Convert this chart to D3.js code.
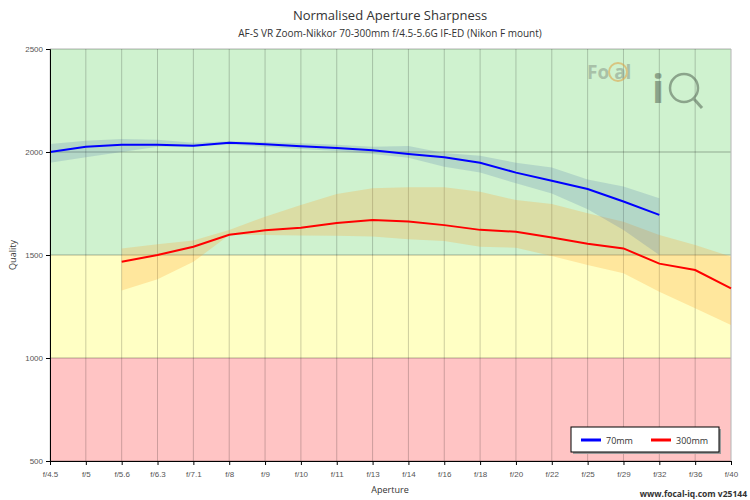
<!DOCTYPE html>
<html>
<head>
<meta charset="utf-8">
<script src="https://d3js.org/d3.v7.min.js"></script>
<style>
body { margin:0; font-family: "Open Sans", sans-serif; }
.tick text { font-size: 8px; fill: #555; }
</style>
</head>
<body>
<script>
var apertures = ["f/4.5","f/5","f/5.6","f/6.3","f/7.1","f/8","f/9","f/10","f/11","f/13","f/14","f/16","f/18","f/20","f/22","f/25","f/29","f/32","f/36","f/40"];
var yTicks = [500, 1000, 1500, 2000, 2500];
// 70mm: index 0..17
var s70 = [2000,2025,2035,2035,2030,2045,2038,2028,2020,2008,1990,1975,1948,1900,1860,1820,1760,1695];
var s70hi = [2039,2055,2063,2060,2045,2052,2048,2042,2035,2025,2029,1995,1982,1948,1925,1867,1832,1775];
var s70lo = [1948,1975,2000,2026,2026,2036,2025,2015,2005,1990,1972,1929,1900,1848,1799,1722,1621,1500];
// 300mm: index 2..19
var s300 = [1467,1500,1540,1598,1620,1632,1655,1670,1663,1645,1622,1613,1585,1555,1532,1458,1427,1338];
var s300hi = [1532,1552,1570,1621,1686,1743,1796,1824,1829,1829,1807,1767,1748,1703,1662,1597,1549,1492];
var s300lo = [1328,1382,1467,1597,1597,1595,1594,1590,1576,1568,1540,1535,1495,1451,1412,1322,1241,1160];

var W = 750, H = 500, m = {l:50, r:19, t:49, b:39};
var svg = d3.select("body").append("svg").attr("width", W).attr("height", H);
var x = d3.scalePoint().domain(apertures).range([m.l, W - m.r]);
var y = d3.scaleLinear().domain([500, 2500]).range([H - m.b, m.t]);

// zones
[[500,1000,"#ffc4c4"],[1000,1500,"#ffffc4"],[1500,2500,"#cff2cf"]].forEach(function(z){
  svg.append("rect").attr("x", m.l).attr("width", W - m.r - m.l)
    .attr("y", y(z[1])).attr("height", y(z[0]) - y(z[1])).attr("fill", z[2]);
});
// grid
svg.append("g").selectAll("line").data(apertures).enter().append("line")
  .attr("x1", d => x(d)).attr("x2", d => x(d)).attr("y1", m.t).attr("y2", H - m.b)
  .attr("stroke", "#000").attr("stroke-opacity", 0.2);
svg.append("g").selectAll("line").data(yTicks).enter().append("line")
  .attr("x1", m.l).attr("x2", W - m.r).attr("y1", d => y(d)).attr("y2", d => y(d))
  .attr("stroke", "#000").attr("stroke-opacity", 0.3);
svg.append("line").attr("x1", W - m.r).attr("x2", W - m.r).attr("y1", m.t).attr("y2", H - m.b).attr("stroke", "#ccc");

// logo
var lg = svg.append("g").attr("opacity", 0.55);
lg.append("text").attr("x", 587).attr("y", 79).attr("font-size", 19).attr("font-weight", "bold").attr("fill", "#8a9a8a").text("Fo   al");
lg.append("circle").attr("cx", 618).attr("cy", 72).attr("r", 9).attr("fill", "none").attr("stroke", "#e0a040").attr("stroke-width", 2);
lg.append("text").attr("x", 652).attr("y", 103).attr("font-size", 40).attr("font-weight", "bold").attr("fill", "#556655").text("i");
lg.append("circle").attr("cx", 684).attr("cy", 88).attr("r", 14).attr("fill", "none").attr("stroke", "#556655").attr("stroke-width", 2.5);
lg.append("line").attr("x1", 694).attr("y1", 99).attr("x2", 702).attr("y2", 108).attr("stroke", "#556655").attr("stroke-width", 3);

function band(hi, lo, off, fill) {
  var a = d3.area().x((d,i) => x(apertures[i + off])).y0((d,i) => y(lo[i])).y1(d => y(d));
  svg.append("path").datum(hi).attr("d", a).attr("fill", fill);
}
function line(vals, off, col) {
  var l = d3.line().x((d,i) => x(apertures[i + off])).y(d => y(d));
  svg.append("path").datum(vals).attr("d", l).attr("fill", "none").attr("stroke", col).attr("stroke-width", 2);
}
band(s300hi, s300lo, 2, "rgba(255,160,40,0.25)");
band(s70hi, s70lo, 0, "rgba(70,110,170,0.2)");
line(s70, 0, "#0000ff");
line(s300, 2, "#ff0000");

// axes
svg.append("g").attr("transform", "translate(0," + (H - m.b) + ")")
  .call(d3.axisBottom(x).tickSize(4).tickPadding(6)).call(g => g.select(".domain").attr("stroke", "#000"));
svg.append("g").attr("transform", "translate(" + m.l + ",0)")
  .call(d3.axisLeft(y).tickValues(yTicks).tickFormat(d3.format("d")).tickSize(4).tickPadding(3));

svg.append("text").attr("x", 390).attr("y", 20).attr("text-anchor", "middle").attr("font-size", 13).attr("fill", "#333").text("Normalised Aperture Sharpness");
svg.append("text").attr("x", 390).attr("y", 37).attr("text-anchor", "middle").attr("font-size", 10).attr("fill", "#333").text("AF-S VR Zoom-Nikkor 70-300mm f/4.5-5.6G IF-ED (Nikon F mount)");
svg.append("text").attr("x", 390).attr("y", 493).attr("text-anchor", "middle").attr("font-size", 9).attr("fill", "#333").text("Aperture");
svg.append("text").attr("transform", "translate(16,255) rotate(-90)").attr("text-anchor", "middle").attr("font-size", 9).attr("fill", "#333").text("Quality");
svg.append("text").attr("x", 747).attr("y", 497).attr("text-anchor", "end").attr("font-size", 8.5).attr("font-weight", "bold").attr("fill", "#333").text("www.focal-iq.com  v25144");

// legend
var leg = svg.append("g").attr("transform", "translate(571,427)");
leg.append("rect").attr("x", 2).attr("y", 2).attr("width", 148).attr("height", 25).attr("fill", "#999");
leg.append("rect").attr("width", 148).attr("height", 25).attr("fill", "#fff").attr("stroke", "#000");
[["70mm","#0000ff",10],["300mm","#ff0000",80]].forEach(function(s){
  leg.append("line").attr("x1", s[2]).attr("x2", s[2] + 20).attr("y1", 13).attr("y2", 13).attr("stroke", s[1]).attr("stroke-width", 3);
  leg.append("text").attr("x", s[2] + 25).attr("y", 16.5).attr("font-size", 9).attr("fill", "#333").text(s[0]);
});
</script>
</body>
</html>
